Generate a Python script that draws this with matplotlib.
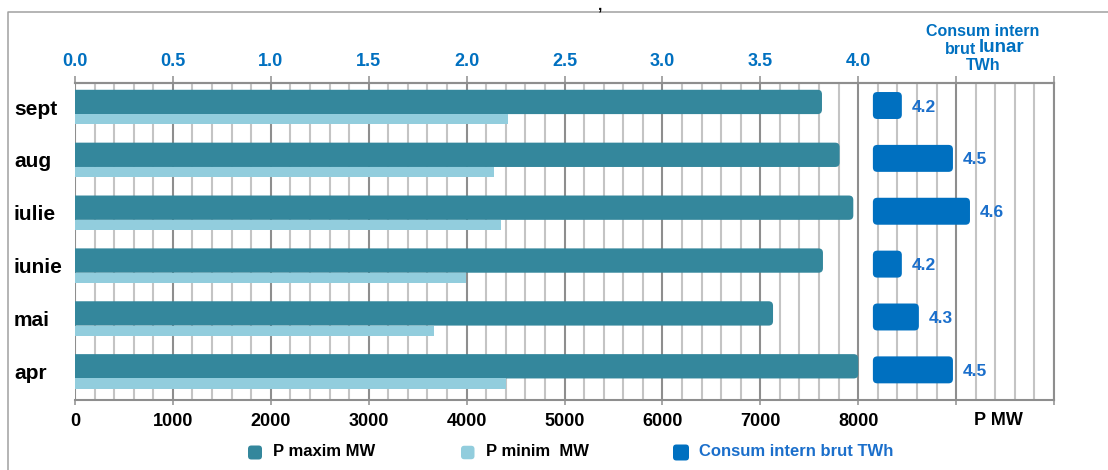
import numpy as np
import matplotlib.pyplot as plt
from matplotlib.patches import FancyBboxPatch
from matplotlib.lines import Line2D

luni = ["apr", "mai", "iunie", "iulie", "aug", "sept"]
p_maxim = [8000, 7130, 7640, 7950, 7810, 7630]      # MW
p_minim = [4400, 3670, 3990, 4350, 4280, 4420]      # MW
consum = [4.5, 4.3, 4.2, 4.6, 4.5, 4.2]             # TWh

top_ticks = np.arange(0, 5.01, 0.5)
top_labels = [f"{t:.1f}" if t <= 4.0 else "" for t in top_ticks]
bottom_ticks = np.arange(0, 10001, 1000)
bottom_labels = [str(t) if t <= 8000 else "" for t in bottom_ticks]

C_MAX = "#34879c"
C_MIN = "#92cddd"
C_CONS = "#0070c0"
C_BLUE_TXT = "#1b6fcb"
C_GRID = "#c4c4c4"
C_GRID_MAJ = "#8e8e8e"

# consum bars sit to the right of 8000 MW on their own scale
CONS_LEFT = 8150
CONS_BASE = 4.03
CONS_SCALE = 1740  # MW of axis per TWh

plt.rcParams["font.family"] = ["Liberation Sans", "DejaVu Sans"]
plt.rcParams["font.weight"] = "bold"

W, H = 1108, 470
fig = plt.figure(figsize=(W / 100, H / 100), dpi=100)


def px(x, y):
    return x / W, 1 - y / H


ax = fig.add_axes([75 / W, 70 / H, 979 / W, 316.7 / H])
ax.set_xlim(0, 10000)
ax.set_ylim(-0.54, 5.45)

# aspect so that corner rounding stays circular on screen
m_aspect = (979 / 10000) / (316.7 / 5.99)


def round_bars(bars, r, hide_left=False):
    for b in bars:
        x0, y0, w, h = b.get_x(), b.get_y(), b.get_width(), b.get_height()
        if hide_left:
            x0, w = x0 - r, w + r
        p = FancyBboxPatch((x0, y0), w, h,
                           boxstyle=f"round,pad=0,rounding_size={r}",
                           mutation_aspect=m_aspect,
                           fc=b.get_facecolor(), ec="none", zorder=b.get_zorder())
        b.remove()
        ax.add_patch(p)


y = np.arange(len(luni))
bmax = ax.barh(y + 0.0975, p_maxim, height=0.46, color=C_MAX, zorder=3)
round_bars(bmax, 45, hide_left=True)
ax.barh(y - 0.23, p_minim, height=0.195, color=C_MIN, zorder=3)

cons_w = [(v - CONS_BASE) * CONS_SCALE for v in consum]
bcons = ax.barh(y + 0.03, cons_w, left=CONS_LEFT, height=0.51, color=C_CONS, zorder=3)
round_bars(bcons, 45)
for yi, w, v in zip(y, cons_w, consum):
    ax.annotate(f"{v:.1f}", xy=(CONS_LEFT + w, yi + 0.0), xytext=(7, 0),
                textcoords="offset points", va="center", ha="left",
                color=C_BLUE_TXT, fontsize=12.5, fontweight="bold")

# grid
ax.set_xticks(bottom_ticks, bottom_labels)
ax.set_xticks(np.arange(0, 10001, 200), minor=True)
ax.grid(which="minor", axis="x", color=C_GRID, lw=1.5, zorder=0)
ax.grid(which="major", axis="x", color=C_GRID_MAJ, lw=1.5, zorder=0)
ax.set_axisbelow(True)

for s in ["top", "bottom", "right"]:
    ax.spines[s].set_color(C_GRID_MAJ)
    ax.spines[s].set_linewidth(1.5)
ax.spines["left"].set_visible(False)

ax.tick_params(axis="x", which="major", length=3.5, width=1.1, color=C_GRID_MAJ,
               labelsize=13, pad=6, labelcolor="black")
ax.tick_params(axis="x", which="minor", length=0)
ax.annotate("P MW", xy=(9430, 0), xycoords=("data", "axes fraction"),
            xytext=(0, -8.5), textcoords="offset points", ha="center", va="top",
            fontsize=13, fontweight="bold")

ax.set_yticks(y, luni)
ax.tick_params(axis="y", length=0, pad=44, labelsize=15)
for lab in ax.get_yticklabels():
    lab.set_horizontalalignment("left")

# top TWh scale
sec = ax.secondary_xaxis("top", functions=(lambda v: v / 2000, lambda v: v * 2000))
sec.set_xticks(top_ticks, top_labels)
sec.tick_params(length=5, width=1.1, color=C_GRID_MAJ, labelcolor=C_CONS,
                labelsize=13, pad=4.5)
sec.spines["top"].set_color(C_GRID_MAJ)
sec.spines["top"].set_linewidth(1.5)

# header of the consum column
fig.text(*px(983, 32), "Consum intern", ha="center", va="center",
         color=C_CONS, fontsize=11.5, fontweight="bold")
fig.text(*px(976, 49), "brut", ha="right", va="center",
         color=C_CONS, fontsize=11.5, fontweight="bold")
fig.text(*px(979, 48), "lunar", ha="left", va="center",
         color=C_CONS, fontsize=13.5, fontweight="bold")
fig.text(*px(983, 65), "TWh", ha="center", va="center",
         color=C_CONS, fontsize=11.5, fontweight="bold")

# legend
leg = [(C_MAX, "P maxim MW", "black", 248, 273, 14),
       (C_MIN, "P minim  MW", "black", 461, 486, 13.5),
       (C_CONS, "Consum intern brut TWh", C_BLUE_TXT, 673, 699, 16)]
for col, lab, tcol, mx, tx, sz in leg:
    x0, y0 = px(mx, 452.5 + sz / 2)
    fig.patches.append(FancyBboxPatch(
        (x0, y0), sz / W, sz / H, transform=fig.transFigure,
        boxstyle="round,pad=0,rounding_size=0.003", mutation_aspect=W / H,
        fc=col, ec="none"))
    fig.text(*px(tx, 452), lab, ha="left", va="center", color=tcol,
             fontsize=12, fontweight="bold")

# frame and stray mark
fig.add_artist(Line2D([8 / W, 8 / W, 1], [0, 1 - 12 / H, 1 - 12 / H],
                      transform=fig.transFigure, color="#a0a0a0", lw=1.1))
fig.text(*px(600, 9), ",", ha="center", va="baseline", fontsize=11, fontweight="bold")

fig.savefig("out.png", dpi=100)
